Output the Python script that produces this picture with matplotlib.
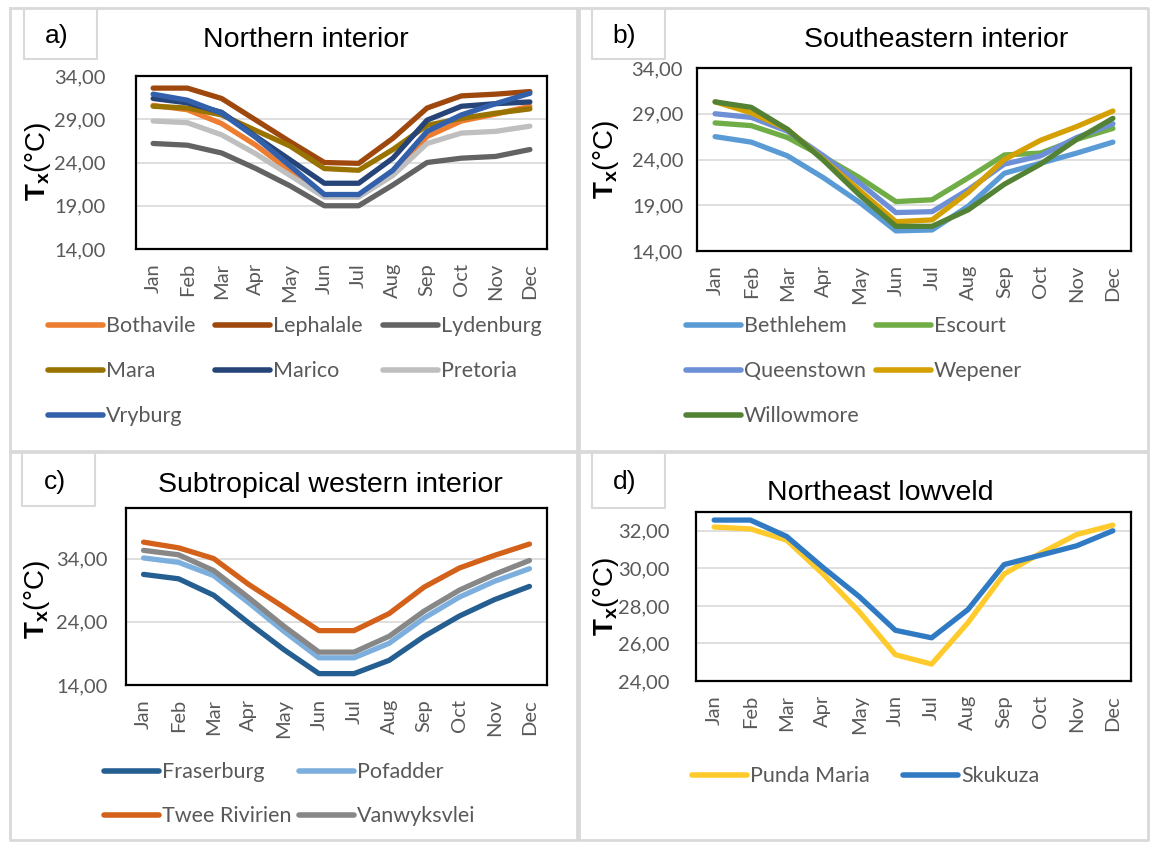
import matplotlib
matplotlib.use("Agg")
import matplotlib.pyplot as plt
from matplotlib.lines import Line2D

months = ["Jan", "Feb", "Mar", "Apr", "May", "Jun", "Jul", "Aug", "Sep", "Oct", "Nov", "Dec"]

# a) Northern interior
bothavile = [30.6, 30.1, 28.5, 26.0, 23.0, 20.1, 20.1, 22.8, 27.0, 28.8, 29.6, 30.5]
lephalale = [32.6, 32.6, 31.4, 28.9, 26.4, 24.0, 23.9, 26.8, 30.3, 31.7, 31.9, 32.2]
lydenburg = [26.2, 26.0, 25.1, 23.3, 21.3, 19.0, 19.0, 21.4, 24.0, 24.5, 24.7, 25.5]
mara = [30.5, 30.3, 29.5, 27.7, 25.9, 23.3, 23.1, 25.5, 28.3, 29.1, 29.7, 30.2]
marico = [31.4, 30.9, 29.8, 27.0, 24.3, 21.6, 21.6, 24.5, 28.9, 30.5, 30.8, 31.0]
pretoria = [28.8, 28.6, 27.2, 25.0, 22.5, 20.0, 20.0, 22.5, 26.2, 27.4, 27.6, 28.2]
vryburg = [31.9, 31.2, 29.7, 26.9, 23.6, 20.3, 20.3, 23.1, 27.6, 29.5, 30.8, 32.0]

# b) Southeastern interior
bethlehem = [26.5, 25.9, 24.4, 22.0, 19.3, 16.2, 16.3, 18.9, 22.5, 23.6, 24.7, 25.9]
escourt = [28.0, 27.7, 26.4, 24.3, 22.0, 19.4, 19.6, 22.0, 24.5, 24.7, 26.2, 27.4]
queenstown = [29.0, 28.6, 27.1, 24.4, 21.4, 18.2, 18.3, 20.7, 23.5, 24.4, 26.4, 27.9]
wepener = [30.3, 29.1, 27.3, 24.0, 20.6, 17.2, 17.4, 20.4, 24.0, 26.1, 27.6, 29.3]
willowmore = [30.3, 29.7, 27.3, 23.9, 20.1, 16.7, 16.7, 18.5, 21.3, 23.5, 26.2, 28.5]

# c) Subtropical western interior
fraserburg = [31.5, 30.8, 28.2, 23.8, 19.6, 15.8, 15.8, 17.9, 21.7, 24.9, 27.5, 29.6]
pofadder = [34.1, 33.4, 31.3, 27.0, 22.5, 18.3, 18.3, 20.6, 24.6, 27.9, 30.4, 32.4]
twee_rivirien = [36.6, 35.7, 34.0, 29.9, 26.3, 22.6, 22.6, 25.3, 29.5, 32.5, 34.5, 36.3]
vanwyksvlei = [35.3, 34.6, 32.1, 27.8, 23.3, 19.2, 19.2, 21.7, 25.7, 29.0, 31.5, 33.7]

# d) Northeast lowveld
punda_maria = [32.2, 32.1, 31.5, 29.7, 27.7, 25.4, 24.9, 27.1, 29.7, 30.8, 31.8, 32.3]
skukuza = [32.57, 32.57, 31.7, 30.05, 28.5, 26.7, 26.3, 27.8, 30.2, 30.7, 31.2, 32.0]

plt.rcParams["mathtext.fontset"] = "custom"
plt.rcParams["mathtext.rm"] = "Liberation Sans"
plt.rcParams["mathtext.bf"] = "Liberation Sans:bold"

W, H = 1151, 843
fig = plt.figure(figsize=(W / 100, H / 100), dpi=100)
fig.patch.set_facecolor("white")

TICK_FONT = "Lato"
TICK_COLOR = "#595959"
FRAME_GRAY = "#D9D9D9"


def fx(x):
    return x / W


def fy(y):
    return 1 - y / H


def frame_rect(l, t, r, b, lw=2.0):
    xs = [fx(l), fx(r), fx(r), fx(l), fx(l)]
    ys = [fy(t), fy(t), fy(b), fy(b), fy(t)]
    fig.add_artist(Line2D(xs, ys, color=FRAME_GRAY, lw=lw, transform=fig.transFigure))


def label_box(l, t, r, b, txt):
    xs = [fx(l), fx(l), fx(r), fx(r)]
    ys = [fy(t), fy(b), fy(b), fy(t)]
    fig.add_artist(Line2D(xs, ys, color=FRAME_GRAY, lw=1.5, transform=fig.transFigure))
    fig.text(fx((l + r) / 2 - 4), fy((t + b) / 2 + 2), txt, fontsize=19,
             family="Liberation Sans", ha="center", va="center")


def panel(l, t, r, b, series, ylim, yticks, title, title_xy, ylab_xy, ypad,
          legend_cols, legend_rows):
    ax = fig.add_axes([fx(l), fy(b), (r - l) / W, (b - t) / H])
    x = list(range(len(months)))
    for name, vals, color in series:
        ax.plot(x, vals, color=color, lw=3.8, solid_capstyle="round",
                solid_joinstyle="round", zorder=3)
    ax.set_xlim(-0.5, len(months) - 0.5)
    ax.set_ylim(*ylim)
    ax.set_yticks(yticks)
    ax.set_yticklabels([f"{v:.2f}".replace(".", ",") for v in yticks],
                       fontsize=14.5, family=TICK_FONT, color=TICK_COLOR)
    ax.set_xticks(x)
    ax.set_xticklabels(months, rotation=90, fontsize=14.5, family=TICK_FONT,
                       color=TICK_COLOR, va="top", ha="center")
    ax.tick_params(axis="both", length=0)
    ax.tick_params(axis="y", pad=ypad)
    ax.tick_params(axis="x", pad=10)
    ax.grid(axis="y", color="#D9D9D9", lw=1.2, zorder=0)
    for s in ax.spines.values():
        s.set_color("black")
        s.set_linewidth(1.6)
    fig.text(fx(title_xy[0]), fy(title_xy[1]), title, fontsize=20.5,
             family="Liberation Sans", ha="center", va="center")
    fig.text(fx(ylab_xy[0]), fy(ylab_xy[1]), r"$\mathbf{T_x}$(°C)", fontsize=20,
             family="Liberation Sans", rotation=90, ha="center", va="center")
    # legend entries
    for i, (name, vals, color) in enumerate(series):
        row = i // len(legend_cols)
        col = i % len(legend_cols)
        hx = legend_cols[col]
        hy = legend_rows[row]
        fig.add_artist(Line2D([fx(hx), fx(hx + 55)], [fy(hy), fy(hy)], color=color,
                              lw=4.0, solid_capstyle="round", transform=fig.transFigure))
        fig.text(fx(hx + 58), fy(hy + 1), name, fontsize=15.5, family=TICK_FONT,
                 color=TICK_COLOR, ha="left", va="center")
    return ax


# chart frames
frame_rect(10, 8, 577, 451)
frame_rect(579, 8, 1148, 451)
frame_rect(10, 452, 577, 840)
frame_rect(579, 452, 1148, 840)

label_box(24, 8, 97, 59, "a)")
label_box(592, 8, 665, 59, "b)")
label_box(22, 453, 95, 506, "c)")
label_box(592, 453, 665, 508, "d)")

panel(136, 76, 547, 249,
      [("Bothavile", bothavile, "#ED7D31"),
       ("Lephalale", lephalale, "#9E480E"),
       ("Lydenburg", lydenburg, "#636363"),
       ("Mara", mara, "#997300"),
       ("Marico", marico, "#264478"),
       ("Pretoria", pretoria, "#BFBFBF"),
       ("Vryburg", vryburg, "#3360AB")],
      (14, 34), [14, 19, 24, 29, 34], "Northern interior", (306, 40), (38, 162), 22,
      [48, 215, 383], [325, 370, 415])

panel(697, 68, 1131, 251,
      [("Bethlehem", bethlehem, "#5B9BD5"),
       ("Escourt", escourt, "#70AD47"),
       ("Queenstown", queenstown, "#6C8FD6"),
       ("Wepener", wepener, "#D4A004"),
       ("Willowmore", willowmore, "#548235")],
      (14, 34), [14, 19, 24, 29, 34], "Southeastern interior", (936, 40), (606, 160), 10,
      [686, 876], [325, 370, 415])

panel(126, 508, 547, 685,
      [("Fraserburg", fraserburg, "#255E91"),
       ("Pofadder", pofadder, "#7CAFDD"),
       ("Twee Rivirien", twee_rivirien, "#D3611A"),
       ("Vanwyksvlei", vanwyksvlei, "#878787")],
      (14, 42), [14, 24, 34], "Subtropical western interior", (330, 485), (37, 600), 13,
      [104, 299], [771, 815])

panel(696, 512, 1131, 681,
      [("Punda Maria", punda_maria, "#FFCA2C"),
       ("Skukuza", skukuza, "#2F7AC2")],
      (24, 33), [24, 26, 28, 30, 32], "Northeast lowveld", (880, 493), (606, 597), 19,
      [692, 903], [775])

fig.savefig("out.png", dpi=100, facecolor="white")
